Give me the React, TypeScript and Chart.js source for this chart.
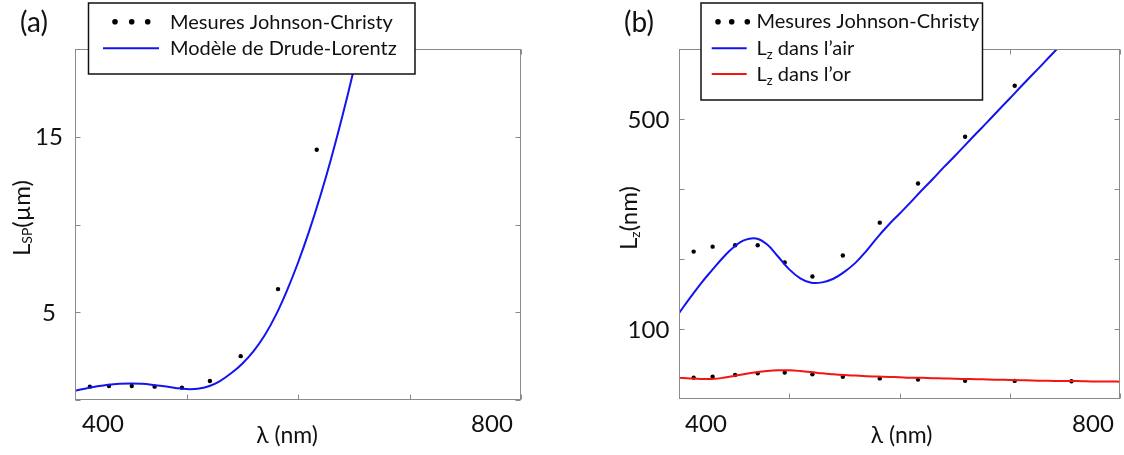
import React, { useEffect, useRef } from "react";
import { Chart, registerables } from "chart.js";

Chart.register(...registerables);

const FONT = "Lato, 'Open Sans', sans-serif";
const BLUE = "rgb(20,20,240)";
const RED = "rgb(245,20,20)";
const FRAME = "#8a8a8a";
const TEXT = "#111111";

// ---------- Panel (a): surface plasmon propagation length ----------
const jcWavelengthA = [413.3, 430.5, 450.9, 471.4, 495.9, 521.0, 548.6, 582.1, 616.8];
const jcLspA = [0.76, 0.8, 0.8, 0.76, 0.7, 1.08, 2.5, 6.32, 14.26];
const modelWavelengthA = [
  400, 410, 420, 430, 440, 450, 460, 470, 480, 490, 500, 510, 520, 530, 540, 550,
  560, 570, 580, 590, 600, 610, 620, 630, 640, 650, 660,
];
const modelLspA = [
  0.53, 0.66, 0.78, 0.87, 0.92, 0.94, 0.92, 0.86, 0.78, 0.69, 0.62, 0.64, 0.78, 1.08, 1.52, 2.07,
  2.77, 3.67, 4.82, 6.22, 7.82, 9.62, 11.62, 13.82, 16.22, 18.82, 21.62,
];
const xTicks = [400, 500, 600, 700, 800];
const xTickLabels = ["400", "", "", "", "800"];
const yTicksA = [0, 5, 10, 15, 20];
const yTickLabelsA = ["", "5", "", "15", ""];

// ---------- Panel (b): penetration depth Lz ----------
const jcWavelengthB = [413.3, 430.5, 450.9, 471.4, 495.9, 521.0, 548.6, 582.1, 616.8, 659.5, 704.5, 756.0];
const jcLzAir = [181, 188, 190, 190, 166.5, 149.6, 175.6, 226, 305, 436.6, 645];
const jcLzGold = [68.9, 69.4, 70.3, 71.2, 71.7, 70.7, 69.4, 68.5, 67.9, 67.3, 67.2, 67.0];
const modelWavelengthB = [
  400, 410, 420, 430, 440, 450, 460, 470, 480, 490, 500, 510, 520, 530, 540, 550, 560, 570,
  580, 590, 600, 610, 620, 630, 640, 650, 660, 670, 680, 690, 700, 710, 720, 730, 740, 750,
  760, 770, 780, 790, 800,
];
const modelLzAir = [
  113, 127, 142, 157, 173, 188, 198, 200, 191, 174, 158, 147.5, 142.5, 143, 147, 155, 166, 182,
  202, 222, 242, 264, 289, 315, 345, 376, 411, 449, 490, 536, 585, 640, 699, 763, 834, 911,
  995, 1087, 1188, 1298, 1418,
];
const modelLzGold = [
  68.9, 68.5, 68.2, 68.2, 68.8, 69.8, 70.9, 71.8, 72.5, 72.9, 72.9, 72.5, 71.9, 71.2, 70.7, 70.3,
  70.0, 69.7, 69.5, 69.3, 69.1, 68.9, 68.8, 68.6, 68.5, 68.3, 68.2, 68.1, 67.9, 67.8, 67.7, 67.6,
  67.4, 67.3, 67.2, 67.1, 67.1, 67.0, 66.9, 66.9, 66.8,
];
const yTicksB = [100, 171, 292, 500];
const yTickLabelsB = ["100", "", "", "500"];
const yMinB = 58.5;
const yMaxB = 855;

const legendTextJC = "Mesures Johnson-Christy";
const legendTextDL = "Modèle de Drude-Lorentz";

type Part = { t: string; sub?: boolean };

function zip(xs: number[], ys: number[]) {
  return ys.map((y, i) => ({ x: xs[i], y }));
}

function drawRich(
  ctx: CanvasRenderingContext2D,
  parts: Part[],
  x: number,
  y: number,
  size: number,
  subSize: number,
  subDy: number,
  align: "left" | "center",
  rotate = false
) {
  const fm = `${size}px ${FONT}`;
  const fs = `${subSize}px ${FONT}`;
  let w = 0;
  const widths = parts.map((p) => {
    ctx.font = p.sub ? fs : fm;
    const m = ctx.measureText(p.t).width;
    w += m;
    return m;
  });
  ctx.save();
  ctx.translate(x, y);
  if (rotate) ctx.rotate(-Math.PI / 2);
  let cx = align === "center" ? -w / 2 : 0;
  ctx.textAlign = "left";
  ctx.textBaseline = "alphabetic";
  parts.forEach((p, i) => {
    ctx.font = p.sub ? fs : fm;
    ctx.fillText(p.t, cx, p.sub ? subDy : 0);
    cx += widths[i];
  });
  ctx.restore();
}

type LegendRow = {
  kind: "dots" | "line";
  color: string;
  y: number;
  marks: number[];
  textX: number;
  baseline: number;
  parts: Part[];
};

type Decor = {
  xTicks: number[];
  xLabels: string[];
  xLabelDx: number[];
  xLabelBaseline: number;
  yTicks: number[];
  yLabels: string[];
  yLabelX: number;
  xTitle: { x: number; y: number };
  yTitle: { parts: Part[]; x: number; y: number; size: number; sub: number; subDy: number };
  panel: { text: string; x: number; y: number };
  legend: { x0: number; y0: number; x1: number; y1: number; rows: LegendRow[] };
};

function makeDecor(d: Decor) {
  return {
    id: "decor",
    afterDraw(chart: any) {
      const ctx: CanvasRenderingContext2D = chart.ctx;
      const ca = chart.chartArea;
      const xs = chart.scales.x;
      const ys = chart.scales.y;
      ctx.save();
      // frame
      const L = Math.round(ca.left) + 0.5;
      const R = Math.round(ca.right) - 0.5;
      const T = Math.round(ca.top) + 0.5;
      const B = Math.round(ca.bottom) - 0.5;
      ctx.strokeStyle = FRAME;
      ctx.lineWidth = 1;
      ctx.strokeRect(L, T, R - L, B - T);
      ctx.beginPath();
      d.xTicks.forEach((v) => {
        const px = Math.round(xs.getPixelForValue(v)) + 0.5;
        ctx.moveTo(px, B);
        ctx.lineTo(px, B - 5);
        ctx.moveTo(px, T);
        ctx.lineTo(px, T + 5);
      });
      d.yTicks.forEach((v) => {
        const py = Math.round(ys.getPixelForValue(v)) + 0.5;
        ctx.moveTo(L, py);
        ctx.lineTo(L + 5, py);
        ctx.moveTo(R, py);
        ctx.lineTo(R - 5, py);
      });
      ctx.stroke();

      // tick labels
      ctx.fillStyle = TEXT;
      ctx.font = `24px ${FONT}`;
      ctx.textAlign = "center";
      ctx.textBaseline = "alphabetic";
      d.xTicks.forEach((v, i) => {
        if (!d.xLabels[i]) return;
        ctx.fillText(d.xLabels[i], xs.getPixelForValue(v) + d.xLabelDx[i], d.xLabelBaseline);
      });
      d.yTicks.forEach((v, i) => {
        if (!d.yLabels[i]) return;
        ctx.fillText(d.yLabels[i], d.yLabelX, ys.getPixelForValue(v) + 8.5);
      });

      // axis titles
      ctx.font = `23px ${FONT}`;
      ctx.fillText("λ (nm)", d.xTitle.x, d.xTitle.y);
      drawRich(ctx, d.yTitle.parts, d.yTitle.x, d.yTitle.y, d.yTitle.size, d.yTitle.sub, d.yTitle.subDy, "center", true);

      // panel letter
      ctx.font = `28px ${FONT}`;
      ctx.fillText(d.panel.text, d.panel.x, d.panel.y);

      // legend
      const lg = d.legend;
      ctx.fillStyle = "#ffffff";
      ctx.fillRect(lg.x0, lg.y0, lg.x1 - lg.x0, lg.y1 - lg.y0);
      ctx.strokeStyle = "#111";
      ctx.lineWidth = 1.5;
      ctx.strokeRect(lg.x0, lg.y0, lg.x1 - lg.x0, lg.y1 - lg.y0);
      lg.rows.forEach((r) => {
        if (r.kind === "dots") {
          ctx.fillStyle = r.color;
          r.marks.forEach((mx) => {
            ctx.beginPath();
            ctx.arc(mx, r.y, 2.8, 0, Math.PI * 2);
            ctx.fill();
          });
        } else {
          ctx.strokeStyle = r.color;
          ctx.lineWidth = 2;
          ctx.beginPath();
          ctx.moveTo(r.marks[0], r.y);
          ctx.lineTo(r.marks[1], r.y);
          ctx.stroke();
        }
        ctx.fillStyle = TEXT;
        drawRich(ctx, r.parts, r.textX, r.baseline, 20, 13, 4, "left");
      });
      ctx.restore();
    },
  };
}

function baseOptions(padding: any, yScale: any) {
  return {
    responsive: false,
    animation: false as const,
    events: [] as any[],
    layout: { padding },
    plugins: { legend: { display: false }, tooltip: { enabled: false }, title: { display: false } },
    scales: {
      x: { type: "linear" as const, min: 400, max: 800, display: false },
      y: { ...yScale, display: false },
    },
  };
}

const curveStyle = {
  showLine: true,
  borderWidth: 2,
  pointRadius: 0,
  tension: 0.4,
};

const dotStyle = {
  showLine: false,
  pointRadius: 2.2,
  pointBackgroundColor: "#000",
  pointBorderWidth: 0,
};

function PanelA() {
  const ref = useRef<HTMLCanvasElement>(null);
  useEffect(() => {
    if (!ref.current) return;
    const decor = makeDecor({
      xTicks,
      xLabels: xTickLabels,
      xLabelDx: [28, 0, 0, 0, -29],
      xLabelBaseline: 432,
      yTicks: yTicksA,
      yLabels: yTickLabelsA,
      yLabelX: 49,
      xTitle: { x: 287, y: 443 },
      yTitle: {
        parts: [{ t: "L" }, { t: "SP", sub: true }, { t: "(µm)" }],
        x: 30,
        y: 218,
        size: 24,
        sub: 14,
        subDy: 2,
      },
      panel: { text: "(a)", x: 34, y: 32 },
      legend: {
        x0: 88.5,
        y0: 3,
        x1: 415,
        y1: 74,
        rows: [
          { kind: "dots", color: "#000", y: 21.7, marks: [115, 131.7, 147.7], textX: 170, baseline: 28.5, parts: [{ t: legendTextJC }] },
          { kind: "line", color: BLUE, y: 48.3, marks: [103, 159], textX: 170, baseline: 55, parts: [{ t: legendTextDL }] },
        ],
      },
    });
    const chart = new Chart(ref.current, {
      type: "scatter",
      data: {
        datasets: [
          { ...curveStyle, data: zip(modelWavelengthA, modelLspA), borderColor: BLUE } as any,
          { ...dotStyle, data: zip(jcWavelengthA, jcLspA) } as any,
        ],
      },
      options: baseOptions({ left: 75, right: 39, top: 49, bottom: 55 }, { type: "linear", min: 0, max: 20 }) as any,
      plugins: [decor as any],
    });
    return () => chart.destroy();
  }, []);
  return <canvas ref={ref} width={560} height={455} style={{ position: "absolute", left: 0, top: 0 }} />;
}

function PanelB() {
  const ref = useRef<HTMLCanvasElement>(null);
  useEffect(() => {
    if (!ref.current) return;
    const decor = makeDecor({
      xTicks,
      xLabels: xTickLabels,
      xLabelDx: [27, 0, 0, 0, -27],
      xLabelBaseline: 432,
      yTicks: yTicksB,
      yLabels: yTickLabelsB,
      yLabelX: 88.5,
      xTitle: { x: 341.5, y: 443 },
      yTitle: {
        parts: [{ t: "L" }, { t: "z", sub: true }, { t: "(nm)" }],
        x: 77,
        y: 218,
        size: 24,
        sub: 14,
        subDy: 3,
      },
      panel: { text: "(b)", x: 79, y: 32 },
      legend: {
        x0: 141,
        y0: 3,
        x1: 422.5,
        y1: 100,
        rows: [
          { kind: "dots", color: "#000", y: 21.7, marks: [158, 171.7, 187.3], textX: 196.5, baseline: 28, parts: [{ t: legendTextJC }] },
          { kind: "line", color: BLUE, y: 48.3, marks: [151.7, 186.7], textX: 196.5, baseline: 54.5, parts: [{ t: "L" }, { t: "z", sub: true }, { t: " dans l’air" }] },
          { kind: "line", color: RED, y: 74, marks: [151.7, 186.7], textX: 196.5, baseline: 80.5, parts: [{ t: "L" }, { t: "z", sub: true }, { t: " dans l’or" }] },
        ],
      },
    });
    const chart = new Chart(ref.current, {
      type: "scatter",
      data: {
        datasets: [
          { ...curveStyle, data: zip(modelWavelengthB, modelLzAir), borderColor: BLUE } as any,
          { ...curveStyle, data: zip(modelWavelengthB, modelLzGold), borderColor: RED } as any,
          { ...dotStyle, data: zip(jcWavelengthB, jcLzAir) } as any,
          { ...dotStyle, data: zip(jcWavelengthB, jcLzGold) } as any,
        ],
      },
      options: baseOptions({ left: 119, right: 1, top: 49, bottom: 56 }, { type: "logarithmic", min: yMinB, max: yMaxB }) as any,
      plugins: [decor as any],
    });
    return () => chart.destroy();
  }, []);
  return <canvas ref={ref} width={564} height={455} style={{ position: "absolute", left: 560, top: 0 }} />;
}

export default function App() {
  return (
    <div style={{ position: "fixed", left: 0, top: 0, width: 1124, height: 455, background: "#fff", overflow: "hidden" }}>
      <PanelA />
      <PanelB />
    </div>
  );
}
